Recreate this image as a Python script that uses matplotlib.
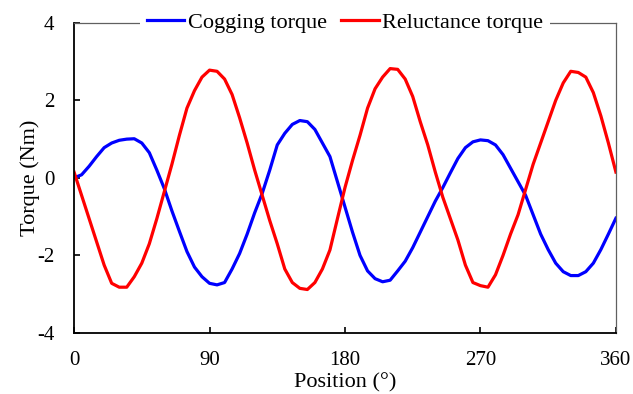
import matplotlib.pyplot as plt
import numpy as np

plt.rcParams['font.family'] = ['Liberation Serif', 'DejaVu Serif']
plt.rcParams['axes.unicode_minus'] = False

# rotor position, degrees
position = list(range(0, 361, 5))

cogging = [0.0, 0.08, 0.3, 0.55, 0.78, 0.9, 0.97, 1.0, 1.01, 0.9,
           0.65, 0.2, -0.28, -0.85, -1.38, -1.9, -2.3, -2.55, -2.72, -2.76,
           -2.7, -2.35, -1.95, -1.45, -0.9, -0.4, 0.2, 0.85, 1.15, 1.38,
           1.48, 1.45, 1.25, 0.9, 0.55, -0.1, -0.75, -1.4, -2.0, -2.4,
           -2.6, -2.68, -2.64, -2.4, -2.15, -1.8, -1.4, -1.0, -0.6, -0.25,
           0.13, 0.5, 0.78, 0.93, 0.98, 0.96, 0.85, 0.6, 0.25, -0.1,
           -0.45, -0.95, -1.45, -1.85, -2.2, -2.42, -2.52, -2.52, -2.42, -2.2,
           -1.85, -1.45, -1.04]

reluctance = [0.15, -0.45, -1.05, -1.65, -2.25, -2.72, -2.82, -2.82, -2.55, -2.2,
              -1.7, -1.05, -0.35, 0.35, 1.1, 1.8, 2.25, 2.6, 2.78, 2.75,
              2.55, 2.15, 1.55, 0.9, 0.2, -0.45, -1.1, -1.7, -2.35, -2.7,
              -2.85, -2.88, -2.7, -2.35, -1.86, -1.05, -0.25, 0.45, 1.1, 1.8,
              2.3, 2.6, 2.82, 2.8, 2.55, 2.1, 1.45, 0.85, 0.15, -0.5,
              -1.05, -1.6, -2.25, -2.7, -2.78, -2.82, -2.5, -2.0, -1.45, -0.95,
              -0.3, 0.35, 0.9, 1.45, 2.0, 2.45, 2.75, 2.72, 2.6, 2.2,
              1.6, 0.9, 0.15]

fig = plt.figure(figsize=(6.33, 3.94), dpi=100)
ax = fig.add_axes([0.117, 0.155, 0.856, 0.787])

ax.plot(position, cogging, color='#0000ff', lw=2.3, label='Cogging torque')
ax.plot(position, reluctance, color='#ff0000', lw=2.3, label='Reluctance torque')

ax.set_xlim(0, 360)
ax.set_ylim(-4, 4)
ax.set_xticks([0, 90, 180, 270, 360])
ax.set_yticks([-4, -2, 0, 2, 4])
ax.tick_params(direction='in', length=4.5, width=1.2, labelsize=15, pad=13)
ax.tick_params(axis='y', pad=14)

for s in ['left', 'bottom']:
    ax.spines[s].set_color('black')
    ax.spines[s].set_linewidth(1.3)
for s in ['top', 'right']:
    ax.spines[s].set_color('#606060')
    ax.spines[s].set_linewidth(0.9)

ax.set_xlabel('Position (°)', fontsize=16, labelpad=2)
ax.set_ylabel('Torque (Nm)', fontsize=16, labelpad=-2)

leg = ax.legend(loc='center', bbox_to_anchor=(0.5, 1.0), ncol=2, fontsize=16,
                frameon=True, fancybox=False, edgecolor='none', facecolor='white',
                framealpha=1, handlelength=1.7, handletextpad=0.15,
                columnspacing=0.65, borderpad=0.3)

plt.savefig('out.png', dpi=100)
